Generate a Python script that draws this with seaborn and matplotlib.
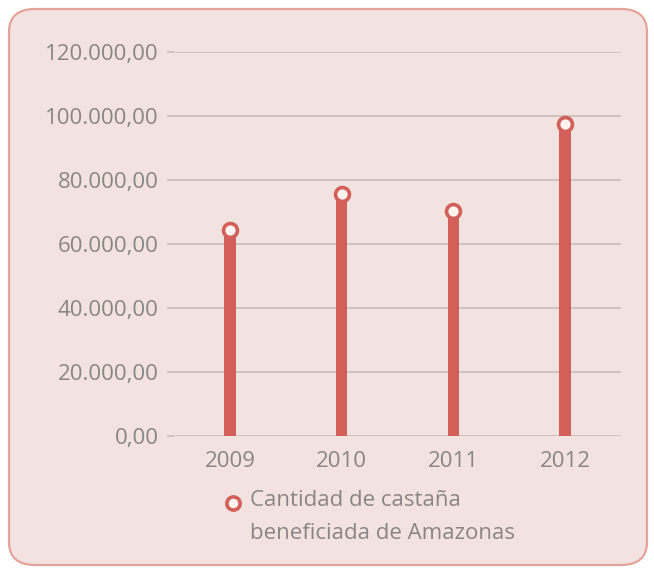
import matplotlib
matplotlib.use("Agg")
import matplotlib.pyplot as plt
from matplotlib.patches import FancyBboxPatch
from matplotlib.lines import Line2D
import seaborn as sns
import pandas as pd

# Data
years = ["2009", "2010", "2011", "2012"]
cantidad = [64300, 75600, 70300, 97500]
y_ticks = [0, 20000, 40000, 60000, 80000, 100000, 120000]
y_tick_labels = ["0,00", "20.000,00", "40.000,00", "60.000,00",
                 "80.000,00", "100.000,00", "120.000,00"]
serie = "Cantidad de castaña\nbeneficiada de Amazonas"

RED = "#d25f5a"
CARD = "#f2e3e0"
EDGE = "#e3a39b"
TXT = "#8a8585"
GRID = "#c9bcb9"

sns.set_theme(style="white")
plt.rcParams["font.family"] = ["Open Sans", "DejaVu Sans"]

df = pd.DataFrame({"anio": years, "valor": cantidad})

fig = plt.figure(figsize=(6.54, 5.70), dpi=100)
fig.patch.set_facecolor("white")

# rounded card behind the chart
card = FancyBboxPatch((9 / 654, 1 - 565 / 570), 638 / 654, 556 / 570,
                      boxstyle="round,pad=0,rounding_size=0.04",
                      transform=fig.transFigure, facecolor=CARD,
                      edgecolor=EDGE, linewidth=1.6, zorder=-5)
fig.patches.append(card)

ax = fig.add_axes([174 / 654, 1 - 436 / 570, 447 / 654, 384 / 570])
ax.set_facecolor("none")
ax.set_zorder(2)

# stems
sns.barplot(data=df, x="anio", y="valor", color=RED, width=0.105,
            saturation=1, linewidth=0, ax=ax, zorder=3)
# hollow markers at the top of each stem
sns.scatterplot(data=df, x="anio", y="valor", ax=ax, marker="o", s=100,
                facecolor="#fdf4f0", edgecolor=RED, linewidth=2.6,
                zorder=4, legend=False)

ax.set_xlim(-0.5, 3.5)
ax.set_ylim(0, 120000)
ax.set_yticks(y_ticks)
ax.set_yticklabels(y_tick_labels)
ax.yaxis.grid(True, color=GRID, linewidth=1.2)
ax.set_axisbelow(True)
for s in ax.spines.values():
    s.set_visible(False)
ax.tick_params(axis="y", length=5, width=1.2, color=GRID, pad=6,
               labelsize=16, labelcolor=TXT, left=True)
ax.tick_params(axis="x", length=0, pad=11, labelsize=16, labelcolor=TXT)
ax.set_xlabel("")
ax.set_ylabel("")

# series key below the plot
fig.add_artist(Line2D([233 / 654], [1 - 503 / 570], linestyle="none",
                      marker="o", markersize=9.5, markerfacecolor="#fdf4f0",
                      markeredgecolor=RED, markeredgewidth=2.6,
                      transform=fig.transFigure))
fig.text(250 / 654, 1 - 490 / 570, serie, ha="left", va="top",
         fontsize=16, color=TXT, linespacing=1.72)

fig.savefig("out.png", dpi=100, facecolor="white")
